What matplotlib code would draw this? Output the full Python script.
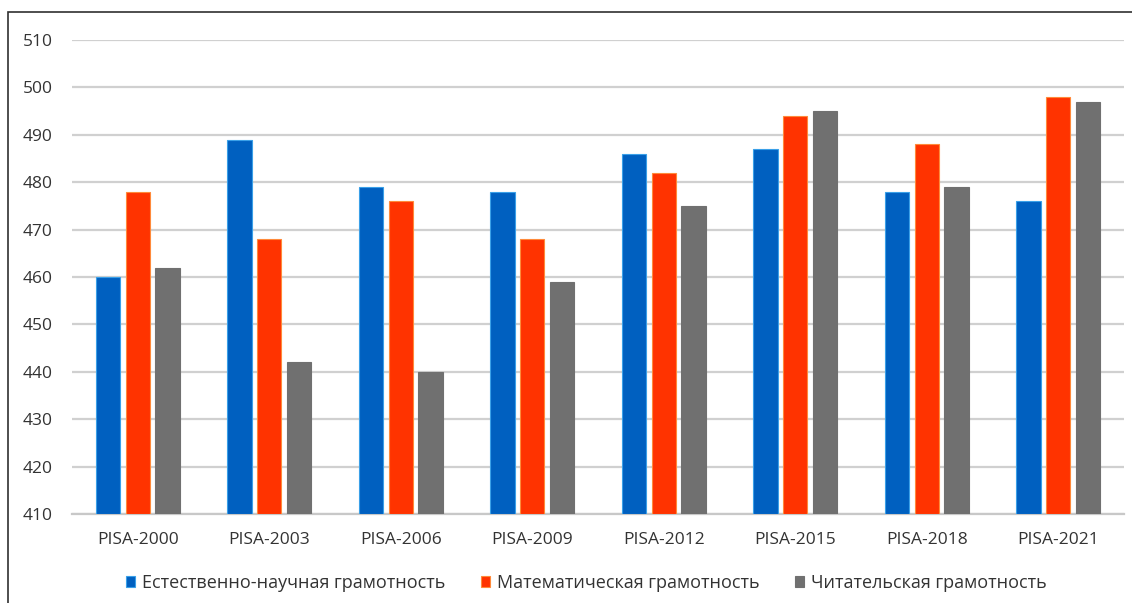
import numpy as np
import matplotlib.pyplot as plt
from matplotlib.patches import Rectangle

categories = ["PISA-2000", "PISA-2003", "PISA-2006", "PISA-2009",
              "PISA-2012", "PISA-2015", "PISA-2018", "PISA-2021"]
science = [460, 489, 479, 478, 486, 487, 478, 476]
math = [478, 468, 476, 468, 482, 494, 488, 498]
reading = [462, 442, 440, 459, 475, 495, 479, 497]
series_names = ["Естественно-научная грамотность",
                "Математическая грамотность",
                "Читательская грамотность"]
yticks = [410, 420, 430, 440, 450, 460, 470, 480, 490, 500, 510]

plt.rcParams['font.family'] = ['Open Sans', 'DejaVu Sans']

fig = plt.figure(figsize=(11.32, 6.03), dpi=100)
ax = fig.add_axes([72 / 1132, 1 - 514 / 603, 1052 / 1132, 474 / 603])

x = np.arange(len(categories))
step = 0.225
width = 0.185
colors = ["#0060C0", "#FF3300", "#707070"]
edges = ["#3AA0E8", "#FF8A3A", "#707070"]
for i, (vals, c, e, name) in enumerate(zip([science, math, reading], colors, edges, series_names)):
    ax.bar(x + (i - 1) * step, np.array(vals) - 410, width, bottom=410,
           color=c, edgecolor=e, linewidth=0.8, label=name, zorder=3)

ax.set_xlim(-0.5, len(categories) - 0.5)
ax.set_ylim(410, 510)
ax.set_yticks(yticks)
ax.set_xticks(x)
ax.set_xticklabels(categories)
ax.grid(axis='y', color='#D0D0D0', linewidth=1.6, zorder=0)
for s in ['top', 'right', 'left']:
    ax.spines[s].set_visible(False)
ax.spines['bottom'].set_color('#C8C8C8')
ax.spines['bottom'].set_linewidth(1.6)
ax.tick_params(axis='both', length=0, labelsize=12.5, labelcolor='#333333')
ax.tick_params(axis='x', pad=13)
ax.tick_params(axis='y', pad=14)

leg = fig.legend(loc='center', bbox_to_anchor=(0.518, 1 - 583 / 603), ncol=3,
                 frameon=False, fontsize=13, handlelength=0.5, handleheight=0.5,
                 handletextpad=0.35, columnspacing=2.0)
for t in leg.get_texts():
    t.set_color('#333333')

fig.patches.append(Rectangle((8 / 1132, -0.1), 1.2, 1 - 12 / 603 + 0.1,
                             transform=fig.transFigure, fill=False,
                             edgecolor='#303030', linewidth=1.2))

fig.savefig("out.png", dpi=100)
